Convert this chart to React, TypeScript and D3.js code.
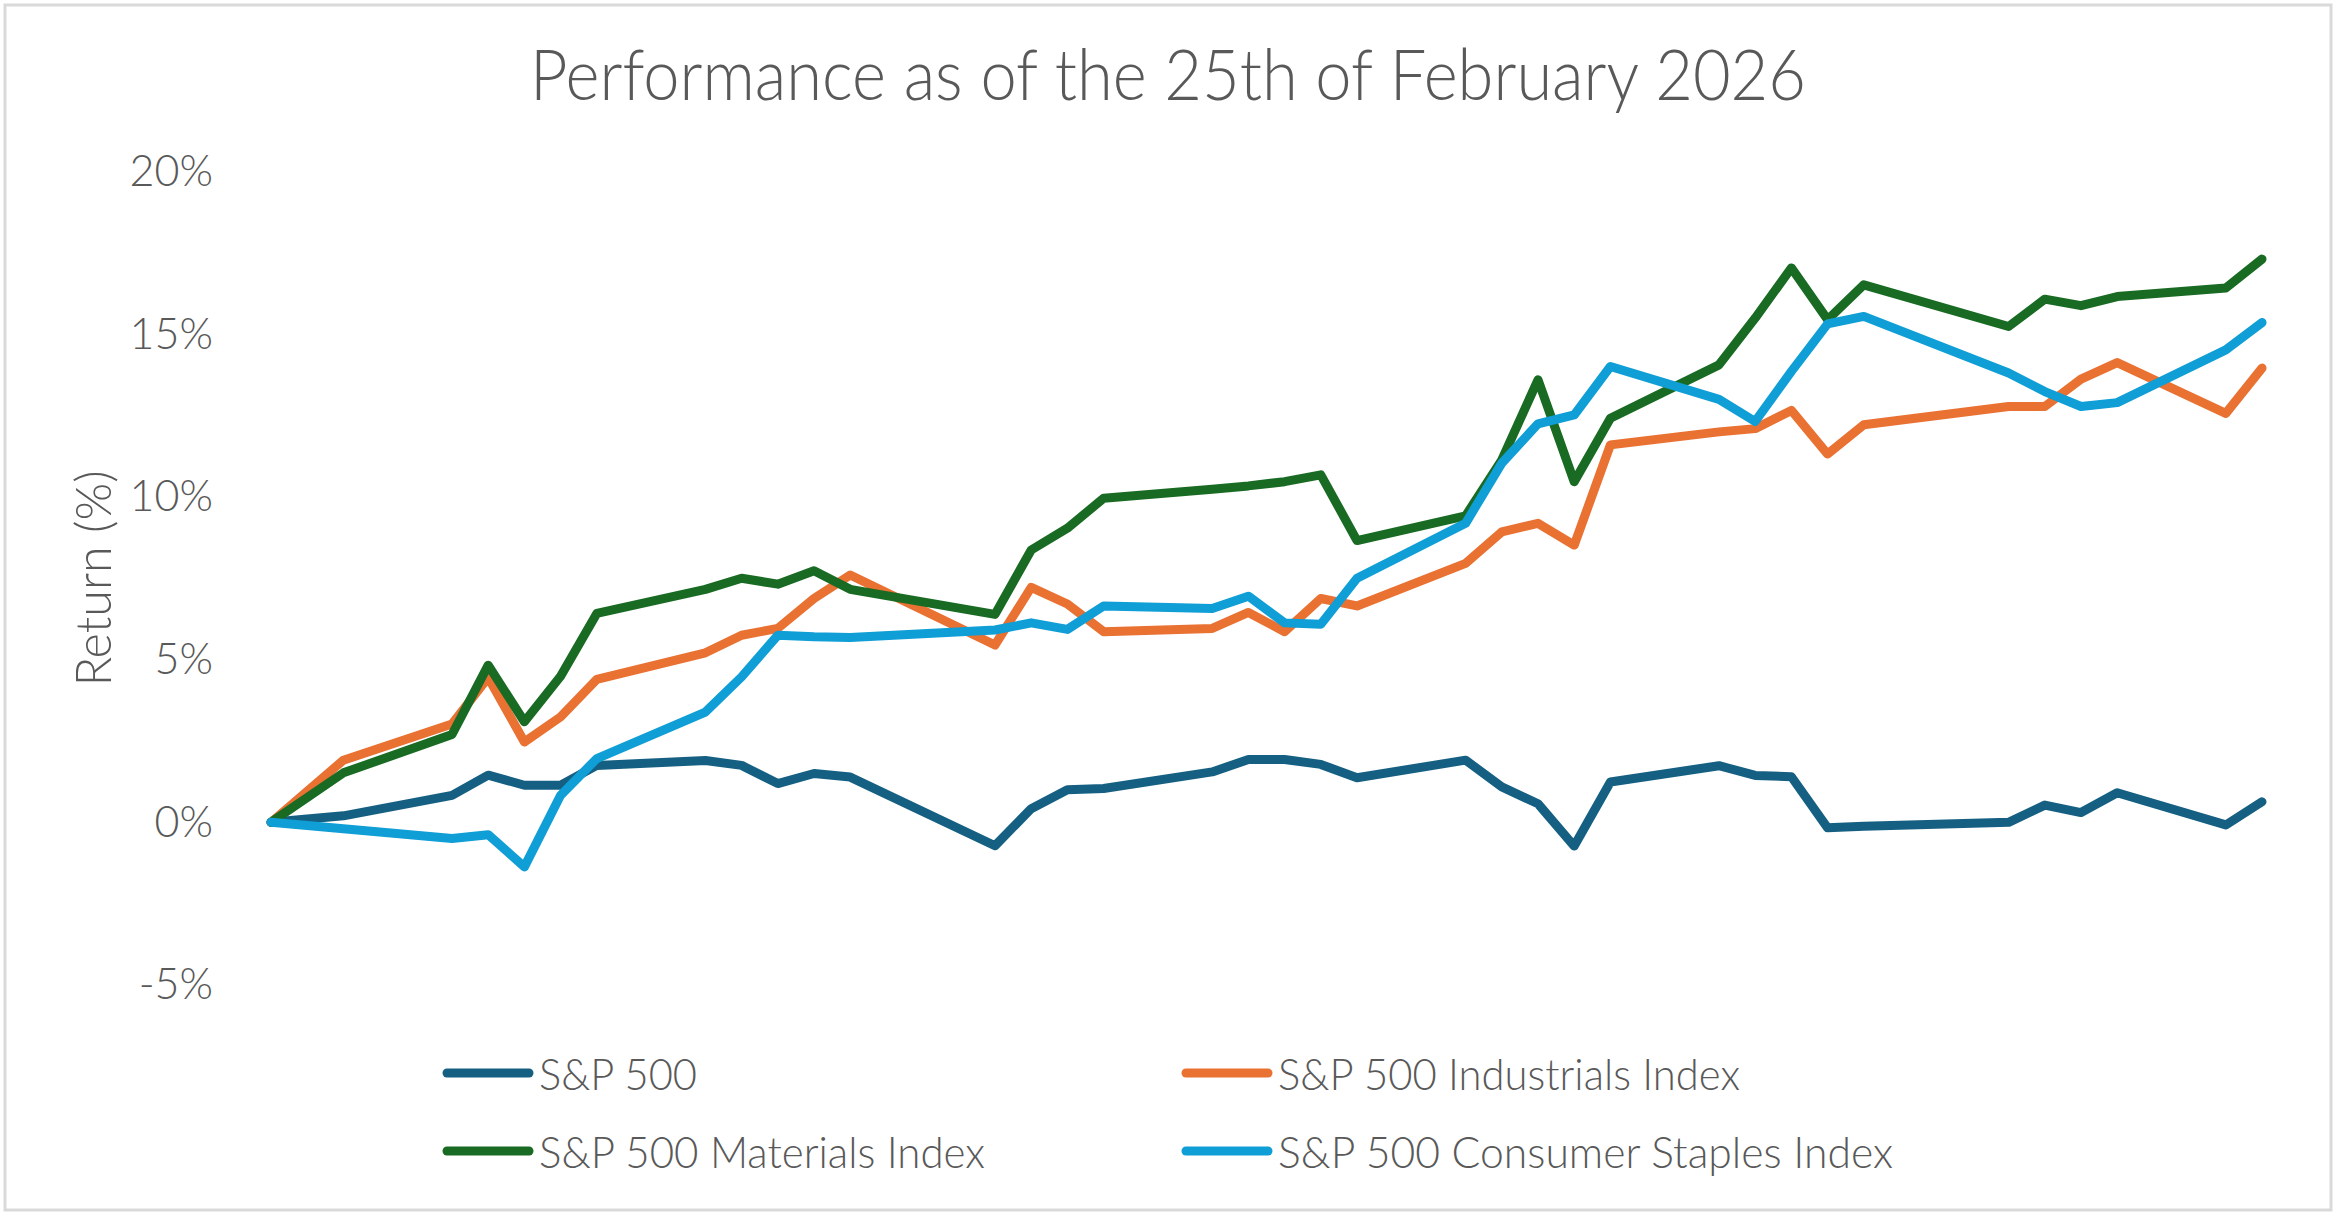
import React, { useEffect, useRef } from 'react';
import * as d3 from 'd3';

// trading days, base = last close of 2025
const dates = [
  '2025-12-31', '2026-01-02', '2026-01-05', '2026-01-06', '2026-01-07', '2026-01-08', '2026-01-09',
  '2026-01-12', '2026-01-13', '2026-01-14', '2026-01-15', '2026-01-16',
  '2026-01-20', '2026-01-21', '2026-01-22', '2026-01-23',
  '2026-01-26', '2026-01-27', '2026-01-28', '2026-01-29', '2026-01-30',
  '2026-02-02', '2026-02-03', '2026-02-04', '2026-02-05', '2026-02-06',
  '2026-02-09', '2026-02-10', '2026-02-11', '2026-02-12', '2026-02-13',
  '2026-02-17', '2026-02-18', '2026-02-19', '2026-02-20',
  '2026-02-23', '2026-02-24',
];

const sp500 = [
  0, 0.2, 0.83, 1.45, 1.14, 1.14, 1.75,
  1.9, 1.75, 1.19, 1.5, 1.39,
  -0.72, 0.42, 1.0, 1.04,
  1.55, 1.93, 1.93, 1.78, 1.37,
  1.91, 1.09, 0.57, -0.73, 1.24,
  1.74, 1.44, 1.4, -0.17, -0.12,
  0.0, 0.53, 0.3, 0.91,
  -0.08, 0.63,
];

const industrials = [
  0, 1.91, 3.02, 4.45, 2.47, 3.24, 4.39,
  5.21, 5.75, 5.96, 6.88, 7.6,
  5.45, 7.22, 6.71, 5.86,
  5.96, 6.45, 5.86, 6.88, 6.65,
  7.96, 8.93, 9.19, 8.52, 11.6,
  12.0, 12.1, 12.66, 11.32, 12.22,
  12.78, 12.78, 13.62, 14.13,
  12.57, 13.96,
];

const materials = [
  0, 1.52, 2.7, 4.83, 3.09, 4.49, 6.42,
  7.16, 7.5, 7.32, 7.73, 7.16,
  6.39, 8.37, 9.04, 9.96,
  10.24, 10.34, 10.47, 10.68, 8.66,
  9.42, 11.14, 13.6, 10.47, 12.42,
  14.06, 15.5, 17.04, 15.45, 16.52,
  15.24, 16.08, 15.88, 16.16,
  16.42, 17.31,
];

const staples = [
  0, -0.2, -0.5, -0.38, -1.37, 0.83, 1.96,
  3.39, 4.47, 5.75, 5.7, 5.68,
  5.91, 6.13, 5.93, 6.65,
  6.57, 6.95, 6.13, 6.09, 7.5,
  9.19, 11.04, 12.25, 12.52, 14.01,
  13.0, 12.32, 13.86, 15.32, 15.55,
  13.81, 13.24, 12.78, 12.9,
  14.52, 15.36,
];

const seriesNames = [
  'S&P 500',
  'S&P 500 Industrials Index',
  'S&P 500 Materials Index',
  'S&P 500 Consumer Staples Index',
];
const seriesColors = ['#156082', '#E97132', '#196B24', '#0F9ED5'];
const yTicks = [-5, 0, 5, 10, 15, 20];

const title = 'Performance as of the 25th of February 2026';
const yTitle = 'Return (%)';

interface Point {
  date: Date;
  value: number;
}

const W = 2337;
const H = 1219;
const FONT = 'Lato, "Open Sans", sans-serif';
const TEXT = '#595959';

export default function App() {
  const svgRef = useRef<SVGSVGElement>(null);

  useEffect(() => {
    if (!svgRef.current) return;
    const svg = d3.select(svgRef.current);
    svg.selectAll('*').remove();

    const parse = d3.timeParse('%Y-%m-%d');
    const parsed = dates.map(d => parse(d) as Date);
    const values = [sp500, industrials, materials, staples];
    const series: Point[][] = values.map(v => v.map((value, i) => ({ date: parsed[i], value })));

    const x = d3.scaleTime()
      .domain([parsed[0], parsed[parsed.length - 1]])
      .range([271, 2262]);

    const y = d3.scaleLinear()
      .domain([-5, 20])
      .range([985, 171.6]);

    // frame
    svg.append('rect')
      .attr('x', 5).attr('y', 5)
      .attr('width', W - 11).attr('height', H - 14)
      .attr('fill', '#fff')
      .attr('stroke', '#d9d9d9')
      .attr('stroke-width', 3);

    // title
    svg.append('text')
      .attr('x', 1168).attr('y', 100)
      .attr('text-anchor', 'middle')
      .attr('font-family', FONT)
      .attr('font-weight', 300)
      .attr('font-size', 70)
      .attr('fill', TEXT)
      .attr('textLength', 1276)
      .attr('lengthAdjust', 'spacingAndGlyphs')
      .text(title);

    // y axis labels
    const yAxis = svg.append('g')
      .attr('transform', 'translate(271,0)')
      .call(d3.axisLeft(y).tickValues(yTicks).tickSize(0).tickPadding(58).tickFormat(d => `${d}%`));
    yAxis.select('.domain').remove();
    yAxis.selectAll('text')
      .attr('font-family', FONT)
      .attr('font-weight', 300)
      .attr('font-size', 43)
      .attr('fill', TEXT);

    svg.append('text')
      .attr('transform', `translate(92,${(y(20) + y(-5)) / 2}) rotate(-90)`)
      .attr('text-anchor', 'middle')
      .attr('dominant-baseline', 'central')
      .attr('font-family', FONT)
      .attr('font-weight', 300)
      .attr('font-size', 49)
      .attr('fill', TEXT)
      .attr('textLength', 216)
      .attr('lengthAdjust', 'spacingAndGlyphs')
      .text(yTitle);

    // lines
    const line = d3.line<Point>()
      .x(d => x(d.date))
      .y(d => y(d.value));

    series.forEach((s, i) => {
      svg.append('path')
        .datum(s)
        .attr('fill', 'none')
        .attr('stroke', seriesColors[i])
        .attr('stroke-width', 9)
        .attr('stroke-linejoin', 'round')
        .attr('stroke-linecap', 'round')
        .attr('d', line);
    });

    // legend, 2 x 2
    const legendX = [447, 1186];
    const legendY = [1073, 1151];
    const legendWidths = [158, 462, 446, 615];
    seriesNames.forEach((name, i) => {
      const lx = legendX[i % 2];
      const ly = legendY[Math.floor(i / 2)];
      const g = svg.append('g').attr('transform', `translate(${lx},${ly})`);
      g.append('line')
        .attr('x1', 0).attr('x2', 82)
        .attr('y1', 0).attr('y2', 0)
        .attr('stroke', seriesColors[i])
        .attr('stroke-width', 9)
        .attr('stroke-linecap', 'round');
      g.append('text')
        .attr('x', 92).attr('y', 0)
        .attr('dominant-baseline', 'central')
        .attr('font-family', FONT)
        .attr('font-weight', 300)
        .attr('font-size', 43)
        .attr('fill', TEXT)
        .attr('textLength', legendWidths[i])
        .attr('lengthAdjust', 'spacingAndGlyphs')
        .text(name);
    });
  }, []);

  return (
    <svg
      ref={svgRef}
      width={W}
      height={H}
      style={{ position: 'absolute', left: 0, top: 0, background: '#fff' }}
    />
  );
}
